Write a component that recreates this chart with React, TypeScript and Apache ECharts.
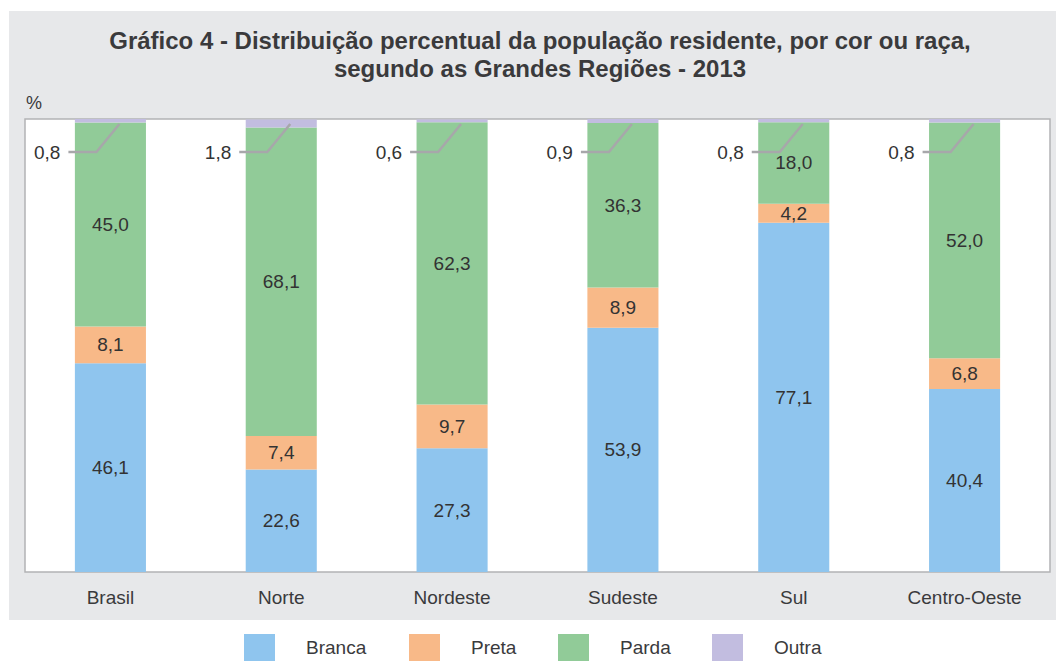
import React, { useEffect, useRef } from "react";
import * as echarts from "echarts";

const categories = ["Brasil", "Norte", "Nordeste", "Sudeste", "Sul", "Centro-Oeste"];
const branca = [46.1, 22.6, 27.3, 53.9, 77.1, 40.4];
const preta = [8.1, 7.4, 9.7, 8.9, 4.2, 6.8];
const parda = [45.0, 68.1, 62.3, 36.3, 18.0, 52.0];
const outra = [0.8, 1.8, 0.6, 0.9, 0.8, 0.8];
const seriesNames = ["Branca", "Preta", "Parda", "Outra"];
const colors = ["#8fc5ee", "#f8b988", "#91cb98", "#c2bde0"];
const titleLines = [
  "Gráfico 4 - Distribuição percentual da população residente, por cor ou raça,",
  "segundo as Grandes Regiões - 2013",
];

const FONT = "Liberation Sans";
const fmt = (v: number) => v.toFixed(1).replace(".", ",");

export default function App() {
  const ref = useRef<HTMLDivElement>(null);
  useEffect(() => {
    if (!ref.current) return;
    const chart = echarts.init(ref.current, null, { renderer: "svg" });
    const values = [branca, preta, parda, outra];
    const barSeries: any[] = values.map((arr, i) => ({
      name: seriesNames[i],
      type: "bar",
      stack: "total",
      barWidth: "41.6%",
      itemStyle: { color: colors[i] },
      data: arr,
      label: {
        show: i < 3,
        position: "inside",
        color: "#333333",
        fontFamily: FONT,
        fontSize: 19,
        formatter: (p: any) => fmt(p.value),
      },
      emphasis: { disabled: true },
    }));
    const legendPos = [244, 409, 558, 712];
    const option: any = {
      animation: false,
      textStyle: { fontFamily: FONT },
      graphic: [
        {
          type: "rect",
          z: -10,
          silent: true,
          shape: { x: 9, y: 11, width: 1047, height: 609 },
          style: { fill: "#e7e8ea" },
        },
        ...titleLines.map((t, i) => ({
          type: "text",
          x: 540,
          y: 40 + i * 28,
          style: {
            text: t,
            fontFamily: FONT,
            fontSize: 24,
            fontWeight: "bold",
            fill: "#3a3a3c",
            align: "center",
            verticalAlign: "middle",
          },
        })),
        {
          type: "text",
          x: 26,
          y: 103,
          style: {
            text: "%",
            fontFamily: FONT,
            fontSize: 18,
            fill: "#3a3a3c",
            verticalAlign: "middle",
          },
        },
      ],
      legend: seriesNames.map((n, i) => ({
        data: [n],
        left: legendPos[i],
        top: 634,
        padding: 0,
        itemWidth: 31,
        itemHeight: 27,
        icon: "rect",
        selectedMode: false,
        textStyle: {
          fontFamily: FONT,
          fontSize: 19,
          color: "#3a3a3c",
          padding: [0, 0, 0, 26],
        },
      })),
      grid: {
        left: 25,
        top: 119,
        right: 6,
        bottom: 89,
        show: true,
        backgroundColor: "#ffffff",
        borderColor: "#b3b3b5",
        borderWidth: 1.5,
      },
      xAxis: {
        type: "category",
        data: categories,
        axisLine: { show: false },
        axisTick: { show: false },
        axisLabel: { fontFamily: FONT, fontSize: 19, color: "#3a3a3c", margin: 16 },
      },
      yAxis: {
        type: "value",
        min: 0,
        max: 100,
        show: false,
        splitLine: { show: false },
      },
      series: [
        ...barSeries,
        {
          type: "custom",
          name: "outraLabels",
          silent: true,
          z: 10,
          data: outra.map((v, i) => [i, v]),
          encode: { x: 0, y: 1 },
          renderItem: (params: any, api: any) => {
            const idx = api.value(0);
            const v = api.value(1);
            const top = api.coord([idx, 100]);
            const cx = top[0];
            const ty = top[1];
            const ly = ty + 33;
            return {
              type: "group",
              children: [
                {
                  type: "polyline",
                  shape: {
                    points: [
                      [cx - 42, ly],
                      [cx - 14, ly],
                      [cx + 9, ty + 5],
                    ],
                  },
                  style: { stroke: "#a7a7aa", lineWidth: 2.5, fill: null },
                },
                {
                  type: "text",
                  x: cx - 50,
                  y: ly,
                  style: {
                    text: fmt(v),
                    fontFamily: FONT,
                    fontSize: 19,
                    fill: "#333333",
                    align: "right",
                    verticalAlign: "middle",
                  },
                },
              ],
            };
          },
        },
      ],
    };
    chart.setOption(option);
    return () => chart.dispose();
  }, []);
  return (
    <div
      ref={ref}
      style={{ position: "absolute", left: 0, top: 0, width: 1056, height: 661 }}
    />
  );
}
